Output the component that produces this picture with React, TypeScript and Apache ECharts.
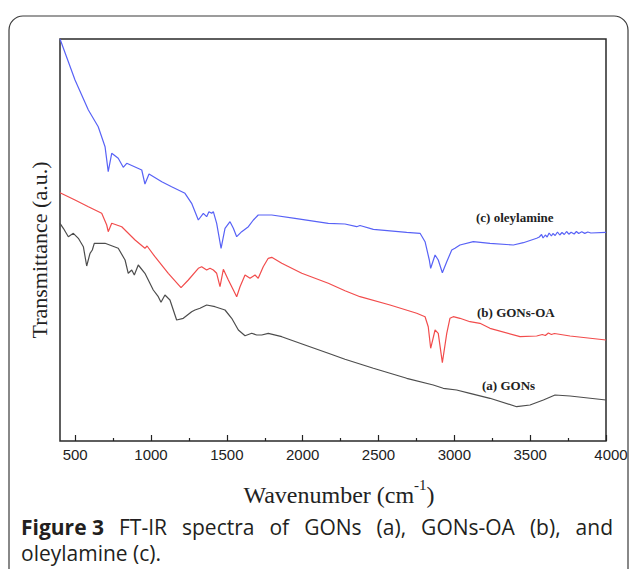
import React, { useEffect, useRef } from "react";
import * as echarts from "echarts";

// x-axis tick labels (cm^-1)
const wavenumberTicks = [500, 1000, 1500, 2000, 2500, 3000, 3500, 4000];
const minorTicks = [750, 1250, 1750, 2250, 2750, 3250, 3750];

// (c) oleylamine  [wavenumber, transmittance a.u.]
const oleylamine: [number, number][] = [
  [400, 402], [499, 361], [587, 331], [652, 314.3], [697, 294.3], [718, 269.3], [741, 287.7],
  [784, 282.7], [817, 273.7], [840, 277.7], [939, 271], [960, 257], [987, 267], [1071, 259.3],
  [1136, 254.3], [1224, 247.7], [1268, 237.7], [1312, 221], [1345, 227.7], [1367, 224.3],
  [1382, 229.3], [1400, 227.7], [1411, 229.3], [1433, 217.7], [1462, 192.7], [1488, 212.7],
  [1521, 219.3], [1543, 212.7], [1565, 204.3], [1598, 209.3], [1642, 214.3], [1675, 221],
  [1707, 226], [1796, 226], [1949, 222.7], [2169, 217.7], [2279, 217], [2356, 214.3],
  [2378, 215.5], [2466, 211.7], [2686, 208.7], [2774, 207.7], [2807, 199.3], [2835, 181],
  [2844, 172.7], [2873, 186], [2894, 181], [2921, 168.3], [2950, 179.3], [2983, 191],
  [3004, 192.7], [3037, 196], [3125, 199.3], [3235, 197.7], [3389, 196], [3455, 198.3],
  [3543, 202.7], [3560, 204], [3575, 206.5], [3585, 203], [3600, 206], [3612, 204],
  [3625, 208], [3640, 205], [3650, 207.5], [3665, 205.5], [3680, 209], [3695, 206],
  [3710, 208.5], [3725, 206.5], [3740, 209.5], [3755, 206.8], [3770, 208.8], [3790, 207],
  [3805, 209.5], [3820, 207.5], [3840, 209.2], [3860, 207.6], [3880, 209], [3900, 208],
  [4000, 208.7],
];

// (b) GONs-OA
const gonsOA: [number, number][] = [
  [400, 248.3], [499, 241], [587, 234.3], [675, 227.7], [708, 216], [718, 209.3], [741, 217.7],
  [807, 214.3], [895, 201], [960, 192.7], [974, 195], [1026, 184.3], [1114, 167.7], [1198, 153.3],
  [1246, 161], [1312, 172.7], [1334, 174.3], [1367, 171], [1389, 172.7], [1411, 171],
  [1433, 167.7], [1455, 154.3], [1477, 171.7], [1510, 161], [1543, 151], [1565, 144.3],
  [1587, 154.3], [1620, 166], [1653, 162.7], [1686, 166], [1707, 162.7], [1740, 174.3],
  [1773, 182.7], [1796, 183.7], [1862, 177.7], [1994, 167.7], [2169, 157.7], [2279, 150.3],
  [2378, 144.3], [2576, 136], [2752, 127.7], [2807, 124.3], [2828, 114.3], [2844, 92.7],
  [2873, 111], [2894, 107.7], [2921, 78.3], [2950, 107.7], [2971, 122.7], [2993, 124.3],
  [3037, 122.7], [3103, 119.3], [3169, 117.7], [3235, 112.7], [3433, 104.3], [3543, 105],
  [3580, 106.5], [3600, 105.5], [3620, 108], [3640, 106.5], [3660, 107.5], [3763, 105],
  [4000, 101],
];

// (a) GONs
const gons: [number, number][] = [
  [400, 217.7], [422, 212.7], [455, 204.3], [488, 207.7], [521, 202.7], [554, 194.3], [576, 175],
  [598, 187.7], [613, 191], [626, 197.7], [697, 197.7], [784, 192.7], [829, 181], [850, 167.7],
  [873, 171], [890, 166], [916, 176], [960, 167.7], [1015, 151], [1048, 144.3], [1066, 138.7],
  [1092, 146], [1125, 141], [1169, 121], [1213, 122.7], [1268, 129.3], [1290, 131], [1323, 132.7],
  [1367, 136], [1422, 134.3], [1488, 131], [1532, 122.7], [1576, 111], [1620, 105.3],
  [1664, 107.7], [1697, 106], [1730, 106], [1773, 107.7], [1862, 104.3], [2015, 96], [2169, 87.7],
  [2279, 81.7], [2466, 72.7], [2686, 62.7], [2861, 56], [2927, 52.7], [3015, 51], [3103, 47.7],
  [3235, 42.7], [3411, 34.3], [3499, 36], [3587, 41], [3664, 46], [3763, 45], [4000, 41],
];

const seriesNames = ["(c) oleylamine", "(b) GONs-OA", "(a) GONs"];
const seriesColors = ["#5862f6", "#f24c4c", "#4d4d4d"];
const captionLine1 = ["Figure 3", "FT-IR", "spectra", "of", "GONs", "(a),", "GONs-OA", "(b),", "and"];
const captionLine2 = "oleylamine (c).";

const CAP_FONT = '"Open Sans", "Noto Sans", sans-serif';
const CAP_SIZE = 21;
const SERIF = '"Liberation Serif", "Times New Roman", serif';
const SANS = '"Liberation Sans", Arial, sans-serif';

function measure(text: string, font: string): number {
  const c = document.createElement("canvas").getContext("2d");
  if (!c) return text.length * 10;
  c.font = font;
  return c.measureText(text).width;
}

export default function App() {
  const ref = useRef<HTMLDivElement>(null);

  useEffect(() => {
    if (!ref.current) return;
    const chart = echarts.init(ref.current, null, { renderer: "svg" });

    // justified first caption line built as rich text with gap fragments
    const left = 21;
    const right = 613;
    const widths = captionLine1.map((w, i) =>
      measure(w, `${i === 0 ? "bold " : ""}${CAP_SIZE}px ${CAP_FONT}`)
    );
    const total = widths.reduce((a, b) => a + b, 0);
    const gap = Math.max(4, (right - left - total) / (captionLine1.length - 1));
    const line1 = captionLine1
      .map((w, i) => (i === 0 ? `{b|${w}}` : `{g| }{r|${w}}`))
      .join("");

    const seriesLabel = (i: number, x: number, y: number) => ({
      type: "text",
      x,
      y,
      style: {
        text: seriesNames[i],
        fontSize: 13,
        fontWeight: "bold",
        fontFamily: SERIF,
        fill: "#222",
        verticalAlign: "middle",
      },
    });

    const option: echarts.EChartsOption = {
      animation: false,
      backgroundColor: "#ffffff",
      grid: {
        left: 60,
        top: 39,
        width: 546,
        height: 402,
        show: true,
        borderColor: "#2a2a2a",
        borderWidth: 1.5,
        containLabel: false,
        outerBoundsMode: "none",
      } as any,
      xAxis: [
        {
          type: "value",
          min: 400,
          max: 4000,
          axisLine: { show: false },
          splitLine: { show: false },
          axisTick: {
            show: true,
            inside: true,
            length: 6,
            customValues: wavenumberTicks,
            lineStyle: { color: "#222", width: 1.2 },
          },
          axisLabel: {
            show: true,
            customValues: wavenumberTicks,
            margin: 6,
            color: "#222",
            fontSize: 15,
            fontFamily: SANS,
            formatter: (v: number) => (v === 4000 ? `{last|${v}}` : `${v}`),
            rich: {
              last: {
                fontSize: 15,
                color: "#222",
                fontFamily: SANS,
                padding: [0, 0, 0, 10],
              },
            },
          },
        } as any,
        {
          type: "value",
          min: 400,
          max: 4000,
          position: "bottom",
          axisLine: { show: false },
          splitLine: { show: false },
          axisLabel: { show: false },
          axisTick: {
            show: true,
            inside: true,
            length: 3,
            customValues: minorTicks,
            lineStyle: { color: "#222", width: 1.2 },
          },
        } as any,
      ],
      yAxis: {
        type: "value",
        min: 0,
        max: 402,
        axisLine: { show: false },
        axisTick: { show: false },
        axisLabel: { show: false },
        splitLine: { show: false },
      },
      series: [oleylamine, gonsOA, gons].map((d, i) => ({
        name: seriesNames[i],
        type: "line",
        data: d,
        showSymbol: false,
        symbol: "none",
        xAxisIndex: 0,
        yAxisIndex: 0,
        lineStyle: { color: seriesColors[i], width: 1.2 },
        z: 3 - i,
      })) as any,
      graphic: [
        {
          type: "rect",
          shape: { x: 9, y: 16, width: 619, height: 620, r: 14 },
          style: { fill: "none", stroke: "#3a3a3a", lineWidth: 1.2 },
          silent: true,
        },
        seriesLabel(0, 476, 217),
        seriesLabel(1, 477, 312),
        seriesLabel(2, 482, 385),
        {
          type: "text",
          x: 39,
          y: 250,
          rotation: Math.PI / 2,
          style: {
            text: "Transmittance (a.u.)",
            fontSize: 22,
            fontFamily: SERIF,
            fill: "#222",
            align: "center",
            verticalAlign: "middle",
          },
        },
        {
          type: "text",
          x: 339,
          y: 492,
          style: {
            text: "{m|Wavenumber (cm}{s|-1}{m|)}",
            align: "center",
            verticalAlign: "middle",
            rich: {
              m: {
                fontSize: 24,
                fontFamily: SERIF,
                fill: "#222",
                lineHeight: 30,
                verticalAlign: "bottom",
              },
              s: {
                fontSize: 15,
                fontFamily: SERIF,
                fill: "#222",
                lineHeight: 30,
                verticalAlign: "top",
              },
            },
          } as any,
        },
        {
          type: "text",
          x: left,
          y: 527,
          style: {
            text: line1,
            verticalAlign: "middle",
            rich: {
              b: { fontSize: CAP_SIZE, fontWeight: "bold", fontFamily: CAP_FONT, fill: "#231f20" },
              r: { fontSize: CAP_SIZE, fontFamily: CAP_FONT, fill: "#231f20" },
              g: { fontSize: CAP_SIZE, fontFamily: CAP_FONT, width: gap },
            },
          } as any,
        },
        {
          type: "text",
          x: left,
          y: 553,
          style: {
            text: captionLine2,
            fontSize: CAP_SIZE,
            fontFamily: CAP_FONT,
            fill: "#231f20",
            verticalAlign: "middle",
          } as any,
        },
      ],
    };

    chart.setOption(option);
    return () => chart.dispose();
  }, []);

  return (
    <div
      ref={ref}
      style={{ position: "fixed", left: 0, top: 0, width: 629, height: 569, background: "#fff" }}
    />
  );
}
